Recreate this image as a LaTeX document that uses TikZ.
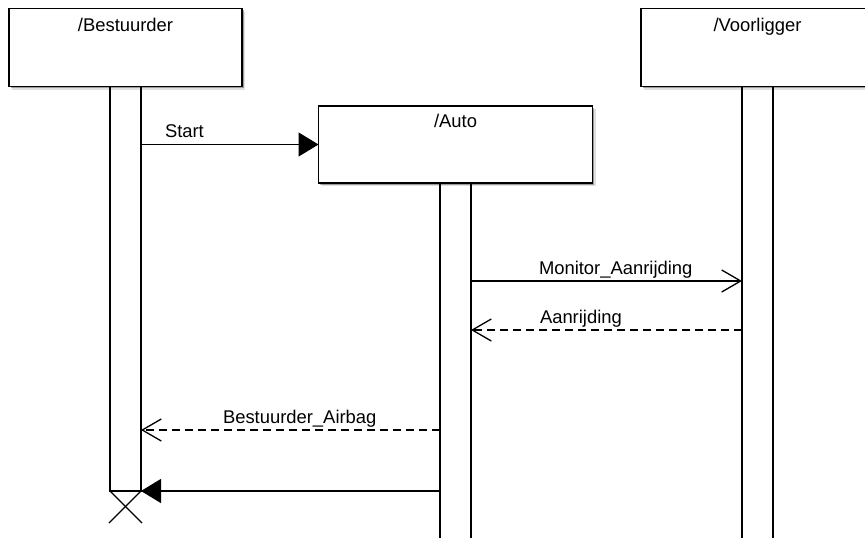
\documentclass[tikz,border=0pt]{standalone}
\usepackage{fontspec}
\setmainfont{Liberation Sans}
\usetikzlibrary{arrows.meta,shadows}
\begin{document}
\begin{tikzpicture}[x=1pt,y=-1pt,
  line width=1.3pt,
  every node/.style={font=\fontsize{18.4}{22}\selectfont, inner sep=0pt, outer sep=0pt},
  actor/.style={draw, fill=white, minimum width=233pt, minimum height=78pt, anchor=north,
    drop shadow={shadow xshift=3pt, shadow yshift=-3pt, fill=black, opacity=0.12},
    drop shadow={shadow xshift=1.5pt, shadow yshift=-1.5pt, fill=black, opacity=0.3}},
  actortitle/.style={anchor=base},
  lifebar/.style={draw, fill=white, minimum width=31pt, anchor=north},
  msg/.style={anchor=base west},
  call/.style={-{Triangle[length=20pt,width=24pt]}},
  async/.style={-{Straight Barb[length=19pt,width=22pt]}},
  reply/.style={dashed, dash pattern=on 8pt off 5pt, -{Straight Barb[length=19pt,width=22pt]}}]

% canvas
\clip (0,0) rectangle (865,538);
\fill[white] (0,0) rectangle (865,538);

% lifelines
\node[lifebar, minimum height=405pt] (bl) at (125.5,86) {};
\node[lifebar, minimum height=380pt] (al) at (455.5,183) {};
\node[lifebar, minimum height=480pt] (vl) at (757.5,86) {};

% participant boxes
\node[actor] (bestuurder) at (125.5,8.5) {};
\node[actortitle] (tb) at (125.5,31) {/Bestuurder};
\node[actor] (voorligger) at (757.5,8.5) {};
\node[actortitle] (tv) at (757.5,31) {/Voorligger};
\node[actor, minimum width=274pt, minimum height=77pt] (auto) at (455.5,106) {};
\node[actortitle] (ta) at (455.5,127) {/Auto};

% message rows
\coordinate (m2) at (0,281);
\coordinate (m3) at (0,330);
\coordinate (m4) at (0,430);
\coordinate (m5) at (0,491);

% messages
\draw[call] (bl.east |- auto.west) -- (auto.west);
\node[msg] (l1) at (165,137) {Start};

\draw[async] (al.east |- m2) -- (vl.west |- m2);
\node[msg] (l2) at (539,274) {Monitor\_Aanrijding};

\draw[reply] (vl.west |- m3) -- (al.east |- m3);
\node[msg] (l3) at (540,323) {Aanrijding};

\draw[reply] (al.west |- m4) -- (bl.east |- m4);
\node[msg] (l4) at (223,423) {Bestuurder\_Airbag};

\draw[call] (al.west |- m5) -- (bl.east |- m5);

% destruction mark
\draw (bl.south west) -- ++(32,32);
\draw (bl.south east) -- ++(-32,32);
\end{tikzpicture}
\end{document}
